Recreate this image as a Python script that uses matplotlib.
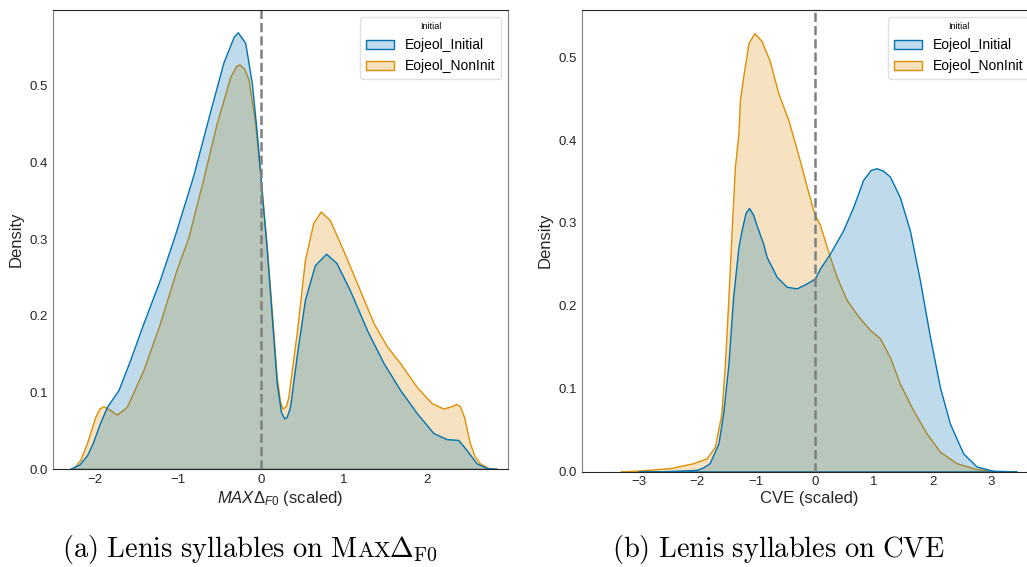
import matplotlib
matplotlib.use("Agg")
import matplotlib.pyplot as plt
from matplotlib.patches import Patch

plt.rcParams['font.family'] = ['Liberation Sans', 'DejaVu Sans']
plt.rcParams['mathtext.fontset'] = 'custom'
plt.rcParams['mathtext.rm'] = 'Liberation Sans'
plt.rcParams['mathtext.it'] = 'Liberation Sans:italic'
plt.rcParams['mathtext.sf'] = 'Liberation Sans'

BLUE = '#0173b2'
ORANGE = '#de8f05'
labels = ['Eojeol_Initial', 'Eojeol_NonInit']

# (a) MaxDeltaF0 densities
a_init_x = [-2.31, -2.19, -2.10, -2.03, -1.95, -1.86, -1.72, -1.58, -1.42, -1.22, -1.04,
            -0.82, -0.62, -0.455, -0.33, -0.28, -0.19, -0.11, -0.05, 0.01, 0.07, 0.13,
            0.19, 0.24, 0.28, 0.31, 0.35, 0.43, 0.53, 0.65, 0.785, 0.91, 1.07, 1.28, 1.48,
            1.68, 1.88, 2.08, 2.24, 2.38, 2.48, 2.60, 2.73, 2.85]
a_init_y = [0.0, 0.006, 0.018, 0.034, 0.058, 0.081, 0.103, 0.142, 0.190, 0.247, 0.305,
            0.382, 0.464, 0.530, 0.564, 0.570, 0.556, 0.503, 0.438, 0.360, 0.286, 0.199,
            0.112, 0.075, 0.066, 0.068, 0.081, 0.147, 0.221, 0.266, 0.281, 0.269, 0.234, 0.181, 0.138,
            0.103, 0.073, 0.047, 0.039, 0.038, 0.025, 0.0075, 0.001, 0.0]
a_non_x = [-2.27, -2.18, -2.10, -2.0, -1.95, -1.90, -1.82, -1.74, -1.62, -1.42, -1.22, -1.02,
           -0.88, -0.70, -0.535, -0.37, -0.30, -0.26, -0.20, -0.15, -0.07, -0.01, 0.07, 0.13,
           0.19, 0.23, 0.26, 0.30, 0.33, 0.43, 0.53, 0.63, 0.72, 0.83, 0.99, 1.16, 1.36, 1.52,
           1.68, 1.88, 2.06, 2.20, 2.30, 2.355, 2.40, 2.45, 2.52, 2.58, 2.64, 2.75, 2.85]
a_non_y = [0.0, 0.012, 0.034, 0.068, 0.079, 0.082, 0.077, 0.071, 0.081, 0.129, 0.190, 0.260,
           0.301, 0.377, 0.451, 0.512, 0.526, 0.528, 0.522, 0.508, 0.451, 0.386, 0.290, 0.207,
           0.120, 0.088, 0.079, 0.082, 0.094, 0.177, 0.273, 0.321, 0.336, 0.325, 0.286, 0.242,
           0.190, 0.160, 0.138, 0.107, 0.086, 0.079, 0.082, 0.085, 0.082, 0.068, 0.034, 0.016,
           0.0075, 0.001, 0.0]

# (b) CVE densities
b_init_x = [-3.0, -2.5, -2.01, -1.90, -1.79, -1.64, -1.56, -1.47, -1.39, -1.30, -1.25, -1.18,
            -1.12, -1.05, -0.99, -0.88, -0.82, -0.65, -0.48, -0.31, -0.14, 0.0, 0.085, 0.255,
            0.48, 0.65, 0.82, 0.95, 1.05, 1.16, 1.275, 1.445, 1.615, 1.785, 1.955, 2.125, 2.295,
            2.52, 2.75, 3.03, 3.43]
b_init_y = [0.0, 0.0005, 0.002, 0.005, 0.010, 0.034, 0.070, 0.130, 0.211, 0.271, 0.290, 0.312,
            0.318, 0.310, 0.297, 0.275, 0.259, 0.235, 0.223, 0.221, 0.227, 0.233, 0.245, 0.263,
            0.291, 0.319, 0.352, 0.364, 0.366, 0.363, 0.356, 0.331, 0.291, 0.231, 0.163, 0.102,
            0.058, 0.022, 0.006, 0.001, 0.0]
b_non_x = [-3.3, -3.03, -2.47, -2.07, -1.84, -1.70, -1.59, -1.53, -1.47, -1.42, -1.36, -1.30,
           -1.275, -1.22, -1.13, -1.03, -0.91, -0.77, -0.62, -0.45, -0.255, -0.14, -0.01, 0.085,
           0.255, 0.37, 0.54, 0.74, 0.935, 1.105, 1.275, 1.445, 1.67, 1.90, 2.125, 2.41, 2.74, 3.1]
b_non_y = [0.0, 0.001, 0.004, 0.010, 0.016, 0.030, 0.070, 0.130, 0.211, 0.285, 0.368, 0.408,
           0.448, 0.476, 0.517, 0.529, 0.520, 0.496, 0.456, 0.424, 0.375, 0.344, 0.311, 0.298,
           0.259, 0.235, 0.207, 0.187, 0.171, 0.161, 0.138, 0.106, 0.074, 0.046, 0.024, 0.010,
           0.003, 0.0]

fig = plt.figure(figsize=(10.27, 5.67), dpi=100)
ax1 = fig.add_axes([0.0516, 0.1728, 0.4430, 0.8096])
ax2 = fig.add_axes([0.5667, 0.1684, 0.4421, 0.8140])


def draw(ax, init, non, xlim, ylim, xticks, xlabel):
    # orange first, blue on top (as seaborn does)
    for (xs, ys), c in [(non, ORANGE), (init, BLUE)]:
        ax.fill_between(xs, ys, facecolor=(*matplotlib.colors.to_rgb(c), 0.25),
                        edgecolor=c, linewidth=1.0)
    ax.axvline(0, color='gray', linestyle='--', linewidth=1.8)
    ax.set_xlim(*xlim)
    ax.set_ylim(*ylim)
    ax.set_xticks(xticks)
    ax.set_yticks([0.0, 0.1, 0.2, 0.3, 0.4, 0.5])
    ax.tick_params(length=0, labelsize=9.5, colors='0.15')
    ax.set_xlabel(xlabel, fontsize=12, color='0.15', labelpad=2)
    ax.set_ylabel('Density', fontsize=12, color='0.15')
    for side in ['top', 'bottom']:
        ax.spines[side].set_color('0.15')
    for side in ['left', 'right']:
        ax.spines[side].set_color('0.5')
    handles = [Patch(facecolor=(*matplotlib.colors.to_rgb(c), 0.25), edgecolor=c, linewidth=1.0)
               for c in [BLUE, ORANGE]]
    leg = ax.legend(handles, labels, title='Initial', loc='upper right', fontsize=10,
                    title_fontsize=6.5, frameon=True)
    leg.get_frame().set_edgecolor('0.85')


draw(ax1, (a_init_x, a_init_y), (a_non_x, a_non_y), (-2.51, 2.98), (0, 0.599),
     [-2, -1, 0, 1, 2], r'$MAX\Delta_{F0}$ (scaled)')
draw(ax2, (b_init_x, b_init_y), (b_non_x, b_non_y), (-3.96, 3.76), (0, 0.557),
     [-3, -2, -1, 0, 1, 2, 3], 'CVE (scaled)')

# subfigure captions in Computer Modern, with small caps for "Max"
renderer = fig.canvas.get_renderer()


def caption(x, y, pieces):
    for s, size, kern in pieces:
        t = fig.text(x, y, s, fontsize=size, math_fontfamily='cm', va='baseline')
        x += (t.get_window_extent(renderer).width + kern) / fig.bbox.width


cap_y = 1 - 557 / 567
caption(62 / 1027, cap_y, [(r'$\mathrm{(a)\ Lenis\ syllables\ on\ M}$', 20.5, -1),
                           (r'$\mathrm{AX}$', 16, -3),
                           (r'$\Delta_{\mathrm{F0}}$', 20.5, 0)])
caption(612 / 1027, cap_y, [(r'$\mathrm{(b)\ Lenis\ syllables\ on\ CVE}$', 20.5, 0)])

fig.savefig('out.png', dpi=100)
